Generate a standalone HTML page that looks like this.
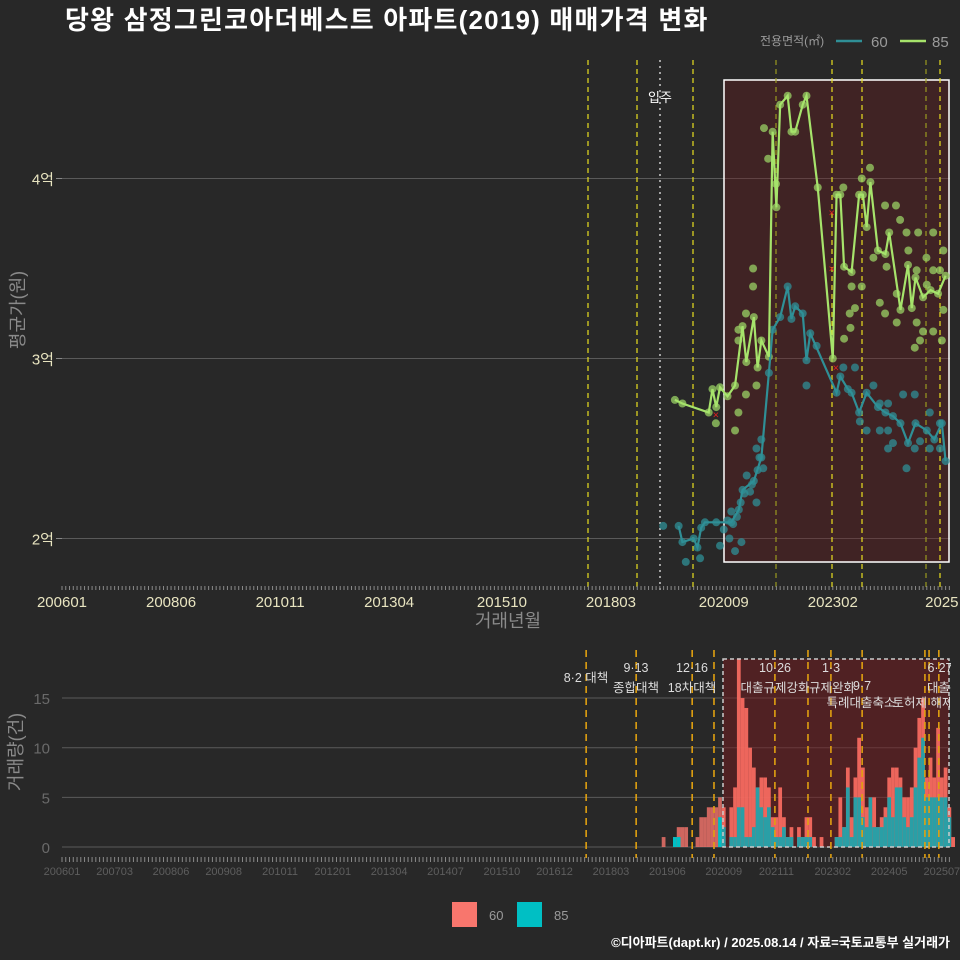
<!DOCTYPE html>
<html><head><meta charset="utf-8">
<style>
html,body{margin:0;padding:0;background:#282828;}
svg{display:block;font-family:"Liberation Sans","Noto Sans CJK KR",sans-serif;}
</style></head>
<body>
<svg id="chart" width="960" height="960" viewBox="0 0 960 960">
<defs><clipPath id="labclip"><rect x="0" y="640" width="951" height="100"/></clipPath></defs>
<rect x="0" y="0" width="960" height="960" fill="#282828"/>
<text x="65" y="29" fill="#ffffff" font-size="26" font-weight="bold" letter-spacing="1.2">당왕 삼정그린코아더베스트 아파트(2019) 매매가격 변화</text>
<g>
<text x="760" y="45" fill="#9a9a9a" font-size="12">전용면적(㎡)</text>
<line x1="836" y1="41" x2="862" y2="41" stroke="#2f8f96" stroke-width="2.5"/>
<text x="871" y="47" fill="#9a9a9a" font-size="15">60</text>
<line x1="900" y1="41" x2="926" y2="41" stroke="#a6e36b" stroke-width="2.5"/>
<text x="932" y="47" fill="#9a9a9a" font-size="15">85</text>
</g>
<text transform="translate(24,310) rotate(-90)" text-anchor="middle" fill="#8a8a8a" font-size="18">평균가(원)</text>
<text x="508" y="627" text-anchor="middle" fill="#8a8a8a" font-size="18">거래년월</text>
<text transform="translate(22,752) rotate(-90)" text-anchor="middle" fill="#8a8a8a" font-size="18">거래량(건)</text>
<g>
<rect x="452" y="902" width="25" height="25" fill="#F8766D"/>
<text x="489" y="920" fill="#9a9a9a" font-size="13">60</text>
<rect x="517" y="902" width="25" height="25" fill="#00BFC4"/>
<text x="554" y="920" fill="#9a9a9a" font-size="13">85</text>
</g>
<text x="950" y="947" text-anchor="end" fill="#ffffff" font-size="13" font-weight="bold">©디아파트(dapt.kr) / 2025.08.14 / 자료=국토교통부 실거래가</text>
<g id="topPanel"></g>
<g id="botPanel"></g>
</svg>
<script>
// ===== data (month index = months since 2006-01) =====
const line85Months=[163,165,172,173,174,175,177,179,181,182,184,185,186,188,189,190,191,193,194,195,197,198,201,205,206,207,208,210,212,213,214,215,217,219,220,223,225,226,227,229,231,233,235];
const line85Values=[2.77,2.75,2.70,2.83,2.73,2.84,2.79,2.85,3.18,2.98,3.23,2.95,3.10,3.01,4.26,3.84,4.41,4.46,4.26,4.26,4.41,4.46,3.95,3.00,3.91,3.91,3.51,3.48,3.91,3.91,3.73,3.98,3.60,3.58,3.70,3.27,3.52,3.28,3.45,3.34,3.38,3.36,3.46];
const line60Months=[164,165,168,169,170,171,174,178,180,181,184,186,188,189,191,193,194,195,197,198,199,206,207,209,210,212,214,217,219,221,223,225,227,230,232,234,235];
const line60Values=[2.07,1.98,2.00,1.95,2.06,2.09,2.09,2.09,2.16,2.27,2.32,2.45,2.92,3.16,3.23,3.40,3.22,3.29,3.25,2.99,3.14,2.81,2.90,2.83,2.81,2.70,2.81,2.73,2.70,2.68,2.64,2.53,2.64,2.60,2.55,2.64,2.43];
const pts85Months=[183.8,183.8,181.9,179.9,179.9,184.7,181.9,179.9,179,173.9,186.7,187.8,189.9,207.8,214.9,212.7,218.9,221.8,222.9,224.6,227.7,231.7,234.4,229.9,231.7,227.3,222,217.5,218.9,222,227.3,229,231.7,228.2,226.8,234,234.4,210,212.7,209.5,210.9,209.7,208,219.3,215.8,225.1,233.5,230];
const pts85Values=[3.50,3.40,3.25,3.16,3.10,2.85,2.80,2.70,2.60,2.64,4.28,4.11,3.97,3.95,4.06,4.00,3.85,3.85,3.77,3.70,3.70,3.70,3.60,3.56,3.49,3.49,3.36,3.31,3.25,3.20,3.20,3.15,3.15,3.10,3.06,3.10,3.27,3.40,3.40,3.25,3.28,3.17,3.11,3.51,3.56,3.60,3.49,3.41];
const pts60Months=[159.9,165.9,169.7,175,179,180.7,184.7,183,186.5,182.1,184.7,198,200.7,207.8,210.9,215.8,217.5,219.7,223.7,226.8,217.5,219.7,214,212.2,219.7,224.6,226.8,230.8,233.5,221,228.2,230.8,233.5,176,177,177.5,178,178.5,179.5,180.5,181.5,183.5,185,185.5,186];
const pts60Values=[2.07,1.87,1.89,1.96,1.93,1.98,2.20,2.26,2.39,2.35,2.50,2.85,3.07,2.95,2.95,2.85,2.75,2.75,2.80,2.80,2.60,2.60,2.60,2.65,2.50,2.39,2.50,2.50,2.50,2.53,2.54,2.70,2.64,2.05,2.10,2.00,2.15,2.08,2.12,2.20,2.25,2.30,2.38,2.45,2.55];
const xMarkMonths=[173.9,204.7,204.7,205.8];
const xMarkValues=[2.69,3.81,3.50,2.95];
const barMonths=[160,163,164,165,166,169,170,171,172,173,174,175,176,178,179,180,181,182,183,184,185,186,187,188,189,190,191,192,193,194,196,197,198,199,200,202,206,207,208,209,210,211,212,213,214,215,216,217,218,219,220,221,222,223,224,225,226,227,228,229,230,231,232,233,234,235,236,237];
const bar85=[0,1,1,0,0,0,0,0,0,0,0,3,2,1,1,4,4,1,1,2,6,4,3,4,2,1,1,2,1,1,1,1,1,1,0,0,1,1,2,6,1,5,5,3,2,5,2,2,2,3,5,3,6,6,3,2,3,6,9,11,5,5,5,5,5,5,3,0];
const bar60=[1,0,1,2,2,1,3,3,4,4,4,2,2,3,5,15,11,13,9,6,0,3,4,2,1,2,5,1,0,1,1,0,2,2,1,1,0,4,0,2,2,2,6,5,2,0,3,0,1,1,2,5,2,1,2,3,3,4,4,4,2,4,2,7,2,3,1,1];
const topTickMonths=[0,29,58,87,117,146,176,205,234];
const topTickLabels=["200601","200806","201011","201304","201510","201803","202009","202302","2025"];
const botTickMonths=[0,14,29,43,58,72,87,102,117,131,146,161,176,190,205,220,234];
const botTickLabels=["200601","200703","200806","200908","201011","201201","201304","201407","201510","201612","201803","201906","202009","202111","202302","202405","202507"];
const priceTicks=[2,3,4];
const priceTickLabels=["2억","3억","4억"];
const volTicks=[0,5,10,15];
const policyMonths=[139.4,152.7,167.6,173.4,189.6,198.4,204.5,212.8,229.5,230.6,233.2];

// ===== scales =====
const X=m=>62+m*3.76;
const YP=v=>538.5-(v-2)*180;
const YV=c=>847-c*9.93;
const NS="http://www.w3.org/2000/svg";
function mk(tag,attrs,parent){const e=document.createElementNS(NS,tag);for(const k in attrs)e.setAttribute(k,attrs[k]);parent.appendChild(e);return e;}
const topG=document.getElementById('topPanel'), botG=document.getElementById('botPanel');

// ---- top panel ----
priceTicks.forEach((v,i)=>{
 const l=mk('line',{x1:62,x2:950,y1:YP(v),y2:YP(v),stroke:'#5a5a5a','stroke-width':1},topG);
 
 
 const tk=mk('line',{x1:56,x2:62,y1:YP(v),y2:YP(v),stroke:'#888'},topG);
 
 
 const t=mk('text',{x:54,y:YP(v)+6,'text-anchor':'end',fill:'#e8e4c0','font-size':15},topG);
 t.textContent=priceTickLabels[i];
 
 
});
const box=mk('rect',{x:724,y:80,width:225,height:482,fill:'rgba(110,25,30,0.35)',stroke:'#ffffff','stroke-width':1.5},topG);


[588,637,693,776,832,862,926,940].forEach(x=>{
 const l=mk('line',{x1:x,x2:x,y1:60,y2:590,stroke:(x==776||x==926)?'#9a9a20':'#e8e020','stroke-width':1.2,'stroke-dasharray':'5,4'},topG);
 
 
});
const mv=mk('line',{x1:660,x2:660,y1:60,y2:590,stroke:'#cccccc','stroke-width':1.5,'stroke-dasharray':'2,4'},topG);


const mvt=mk('text',{x:660,y:102,'text-anchor':'middle',fill:'#ffffff','font-size':13},topG);
mvt.textContent='입주';


for(let m=0;m<=236;m++){
 const t=mk('line',{x1:X(m),x2:X(m),y1:586,y2:590,stroke:'#8a8a8a','stroke-width':1},topG);
 
 
}
topTickMonths.forEach((m,i)=>{
 const t=mk('text',{x:X(m),y:607,'text-anchor':'middle',fill:'#e8e4c0','font-size':15},topG);
 t.textContent=topTickLabels[i];
 
 
});
pts60Months.concat(line60Months).forEach((m,i)=>{
 const v=i<pts60Months.length?pts60Values[i]:line60Values[i-pts60Months.length];
 const c=mk('circle',{cx:X(m),cy:YP(v),r:4,fill:'#2f8f96','fill-opacity':0.75},topG);
 
 
});
pts85Months.concat(line85Months).forEach((m,i)=>{
 const v=i<pts85Months.length?pts85Values[i]:line85Values[i-pts85Months.length];
 const c=mk('circle',{cx:X(m),cy:YP(v),r:4,fill:'#9ad264','fill-opacity':0.75},topG);
 
 
});
const p60=mk('polyline',{points:line60Months.map((m,i)=>X(m)+','+YP(line60Values[i])).join(' '),fill:'none',stroke:'#2f8f96','stroke-width':2.2},topG);


const p85=mk('polyline',{points:line85Months.map((m,i)=>X(m)+','+YP(line85Values[i])).join(' '),fill:'none',stroke:'#a6e36b','stroke-width':2.2},topG);


xMarkMonths.forEach((m,i)=>{
 const t=mk('text',{x:X(m),y:YP(xMarkValues[i])+4,'text-anchor':'middle',fill:'#e02020','font-size':11},topG);
 t.textContent='×';
 
 
});

// ---- bottom panel ----
volTicks.forEach(v=>{
 const l=mk('line',{x1:62,x2:950,y1:YV(v),y2:YV(v),stroke:'#5a5a5a','stroke-width':1},botG);
 
 
 const t=mk('text',{x:50,y:YV(v)+6,'text-anchor':'end',fill:'#6a6a6a','font-size':15},botG);
 t.textContent=v;
 
 
});
const box2=mk('rect',{x:723,y:659,width:226,height:188,fill:'rgba(120,25,30,0.5)'},botG);


barMonths.forEach((m,i)=>{
 const inBox=X(m)>=723;
 const x=X(m)-1.88,w=3.76;
 const tot=bar60[i]+bar85[i];
 if(tot>0){
  const r=mk('rect',{x:x,y:YV(tot),width:w,height:YV(0)-YV(tot),fill:inBox?'#f56a60':'#F8766D','fill-opacity':inBox?0.95:0.8},botG);
  
  
 }
 if(bar85[i]>0){
  const r=mk('rect',{x:x,y:YV(bar85[i]),width:w,height:YV(0)-YV(bar85[i]),fill:inBox?'#2a9fa6':'#00BFC4'},botG);
  
  
 }
});
const bb=mk('rect',{x:723,y:659,width:226,height:188,fill:'none',stroke:'#cccccc','stroke-width':1.5,'stroke-dasharray':'4,3'},botG);


policyMonths.forEach(m=>{
 const l=mk('line',{x1:X(m),x2:X(m),y1:650,y2:858,stroke:'#e0a010','stroke-width':1.6,'stroke-dasharray':'7,5'},botG);
 
 
});
const labG=mk('g',{'clip-path':'url(#labclip)'},botG);


const labels=[[586,682,'8·2 대책'],[636,672,'9·13'],[636,692,'종합대책'],[692,672,'12·16'],[692,692,'18차대책'],[775,672,'10·26'],[775,692,'대출규제강화'],[831,672,'1·3'],[832,692,'규제완화'],[862,690,'9·7'],[861,707,'특례대출축소'],[923,707,'토허제 해제'],[940,672,'6·27'],[950,692,'대출규제']];
labels.forEach(a=>{
 const t=mk('text',{x:a[0],y:a[1],'text-anchor':'middle',fill:'#dddddd','font-size':12.5},labG);
 t.textContent=a[2];
 
 
});
for(let m=0;m<=236;m++){
 const t=mk('line',{x1:X(m),x2:X(m),y1:857,y2:862,stroke:'#8a8a8a','stroke-width':1},botG);
 
 
}
botTickMonths.forEach((m,i)=>{
 const t=mk('text',{x:X(m),y:875,'text-anchor':'middle',fill:'#5e5e5e','font-size':11},botG);
 t.textContent=botTickLabels[i];
 
 
});
</script>
</body></html>
